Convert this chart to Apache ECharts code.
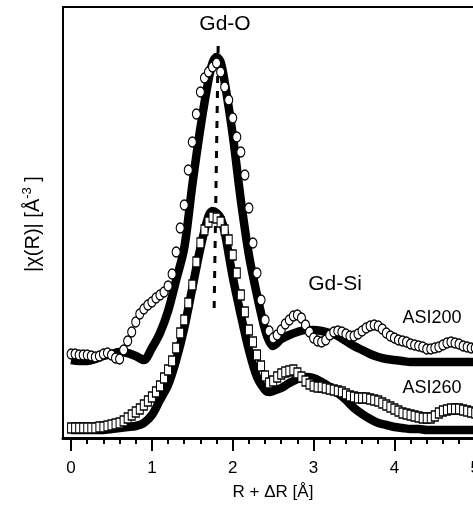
<!DOCTYPE html>
<html>
<head>
<meta charset="utf-8">
<script src="https://cdn.jsdelivr.net/npm/echarts@6/dist/echarts.min.js"></script>
<style>html,body{margin:0;padding:0;background:#fff;overflow:hidden}#c{width:500px;height:507px}</style>
</head>
<body>
<div id="c"></div>
<script>
// R + dR grid for measured data (Å)
var dataR = [];
for (var i = 0; i <= 102; i++) dataR.push(+(i * 0.05).toFixed(2));

// |chi(R)| (arbitrary units, offset curves)
var asi200Data = [84,84,83,83,83,82,81,82,84,85,83,80,79,88,97,106,116,124,129,133,
  136,140,143,146,152,164,186,210,233,268,296,324,346,360,366,371,375,366,351,338,
  320,301,286,263,230,195,165,138,118,107,100,103,108,114,118,122,123,120,113,106,
  100,97,96,98,103,106,107,106,104,102,102,104,107,110,112,113,112,109,105,102,
  100,98,97,96,94,93,92,91,89,89,90,91,93,95,96,95,94,92,91,90,
  90,91,92];

var asi260Data = [10,10,10,10,10,10,10,11,11,12,13,14,15,17,20,23,26,29,33,37,
  41,46,52,60,68,77,90,105,118,135,153,176,195,208,216,221,220,216,208,198,
  183,165,143,126,108,96,83,72,62,55,57,61,64,66,67,68,65,61,57,54,
  52,51,51,50,49,48,47,46,44,42,41,40,40,40,39,38,37,35,33,31,
  29,27,25,24,23,22,21,20,20,20,22,25,27,28,29,29,29,28,27,26,
  25,25,26];

var fitR = [0,0.1,0.2,0.3,0.4,0.5,0.6,0.7,0.8,0.9,1.0,1.1,1.2,1.3,1.4,1.5,1.6,1.7,1.75,1.8,1.85,1.9,
  2.0,2.1,2.2,2.3,2.4,2.45,2.5,2.6,2.7,2.8,2.9,3.0,3.1,3.2,3.3,3.4,3.5,3.6,3.7,3.8,3.9,
  4.0,4.1,4.2,4.3,4.4,4.6,4.8,5.0,5.2];

var asi200Fit = [78,77,77,79,82,84,86,85,82,78,90,105,127,158,190,253,310,358,375,381,376,356,
  303,238,183,143,108,97,92,99,103,106,108,108,107,105,102,97,92,88,84,81,79,
  78,77,76,76,76,76,76,76,76];

var asi260Fit = [8,8,8,8,8,9,10,11,12,15,23,38,53,78,110,150,190,222,227,225,220,206,
  161,123,88,61,48,46,47,50,55,59,61,60,56,51,45,38,30,24,19,15,13,
  11,10,9,9,8,8,8,8,8];

// Gd-O guide line
var guideR = [1.77, 1.82];
var guideY = [130, 395];

var majorTicks = [0, 1, 2, 3, 4, 5];
var minorTicks = [];
for (var k = 1; k <= 25; k++) { var v = +(k * 0.2).toFixed(1); if (Math.abs(v - Math.round(v)) > 1e-6) minorTicks.push(v); }

function pairs(xs, ys) { return xs.map(function (x, i) { return [x, ys[i]]; }); }

var FONT = '"Liberation Sans", Arial, sans-serif';
var chart = echarts.init(document.getElementById('c'), null, { renderer: 'canvas' });
chart.setOption({
  animation: false,
  backgroundColor: '#fff',
  grid: { left: 63, top: 7, width: 428.4, height: 431, show: true, borderColor: '#000', borderWidth: 2, backgroundColor: 'transparent' },
  xAxis: [
    { type: 'value', min: -0.1, max: 5.2, position: 'bottom',
      axisLine: { show: true, onZero: false, lineStyle: { color: '#000', width: 3 } },
      axisTick: { show: true, customValues: majorTicks, length: 13, inside: false, lineStyle: { color: '#000', width: 2 } },
      axisLabel: { show: true, customValues: majorTicks, fontSize: 17, fontFamily: FONT, color: '#000', margin: 22 },
      splitLine: { show: false } },
    { type: 'value', min: -0.1, max: 5.2, position: 'bottom', offset: 0,
      axisLine: { show: false },
      axisTick: { show: true, customValues: minorTicks, length: 6, inside: false, lineStyle: { color: '#000', width: 2 } },
      axisLabel: { show: false }, splitLine: { show: false } }
  ],
  yAxis: { type: 'value', min: 0, max: 431, axisLine: { show: false }, axisTick: { show: false }, axisLabel: { show: false }, splitLine: { show: false } },
  series: [
    { type: 'line', name: 'guide', data: pairs(guideR, guideY), showSymbol: false, z: 1,
      lineStyle: { color: '#000', width: 3, type: [7, 8] } },
    { type: 'line', name: 'ASI200 fit', data: pairs(fitR, asi200Fit), showSymbol: false, smooth: 0.3, z: 2,
      lineStyle: { color: '#000', width: 8.5 } },
    { type: 'line', name: 'ASI260 fit', data: pairs(fitR, asi260Fit), showSymbol: false, smooth: 0.3, z: 2,
      lineStyle: { color: '#000', width: 8.5 } },
    { type: 'scatter', name: 'ASI200', data: pairs(dataR, asi200Data), symbol: 'circle', symbolSize: [8, 10], z: 3,
      itemStyle: { color: '#fff', borderColor: '#000', borderWidth: 1.2, opacity: 1 } },
    { type: 'scatter', name: 'ASI260', data: pairs(dataR, asi260Data), symbol: 'rect', symbolSize: [7, 10], z: 3,
      itemStyle: { color: '#fff', borderColor: '#000', borderWidth: 1.2, opacity: 1 } }
  ],
  graphic: [
    { type: 'text', x: 225, y: 24, style: { text: 'Gd-O', font: '21px ' + FONT, fill: '#000', align: 'center', verticalAlign: 'middle' } },
    { type: 'text', x: 335, y: 284, style: { text: 'Gd-Si', font: '21px ' + FONT, fill: '#000', align: 'center', verticalAlign: 'middle' } },
    { type: 'text', x: 432, y: 318, style: { text: 'ASI200', font: '18px ' + FONT, fill: '#000', align: 'center', verticalAlign: 'middle' } },
    { type: 'text', x: 432, y: 388, style: { text: 'ASI260', font: '18px ' + FONT, fill: '#000', align: 'center', verticalAlign: 'middle' } },
    { type: 'text', x: 273, y: 492, style: { text: 'R + ΔR [Å]', font: '17px ' + FONT, fill: '#000', align: 'center', verticalAlign: 'middle' } },
    { type: 'text', x: 33, y: 224, rotation: Math.PI / 2,
      style: { text: '{n||χ(R)| [Å}{s|-3}{n| ]}', fill: '#000', align: 'center', verticalAlign: 'middle',
        rich: { n: { fontSize: 20, fontFamily: FONT, fill: '#000', lineHeight: 24 },
                 s: { fontSize: 13, fontFamily: FONT, fill: '#000', verticalAlign: 'top', lineHeight: 24 } } } }
  ]
});
</script>
</body>
</html>
